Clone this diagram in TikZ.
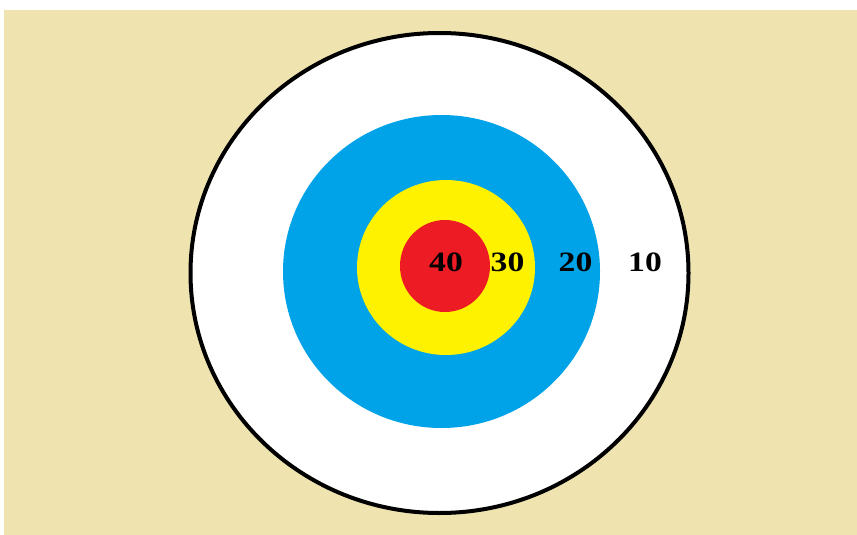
\documentclass[tikz,border=0pt]{standalone}
\usepackage{fontspec}
\setmainfont{Liberation Serif}
\definecolor{tan}{HTML}{EFE4B0}
\definecolor{pblue}{HTML}{00A2E8}
\definecolor{pyellow}{HTML}{FFF200}
\definecolor{pred}{HTML}{ED1C24}
\newcommand{\wide}[1]{\scalebox{1.2}[1]{#1}}
\begin{document}
\begin{tikzpicture}[x=1pt,y=-1pt,
  score/.style={font=\fontsize{28}{30}\selectfont\bfseries, text=black, inner sep=0pt, anchor=center}]
\useasboundingbox (0,0) rectangle (857,535);
\fill[white] (0,0) rectangle (857,535);
\fill[tan] (4,10) rectangle (857,535);
\filldraw[fill=white, draw=black, line width=4pt] (439.5,273) ellipse [x radius=249, y radius=240];
\fill[pblue] (441.5,271.5) ellipse [x radius=158.5, y radius=156.5];
\fill[pyellow] (446,267.5) ellipse [x radius=89, y radius=87.5];
\fill[pred] (445,266) ellipse [x radius=45, y radius=46];
\node[score] (s40) at (446,262.5) {\wide{40}};
\node[score] (s30) at (507.5,262.5) {\wide{30}};
\node[score] (s20) at (575.5,262.5) {\wide{20}};
\node[score] (s10) at (645,262.5) {\wide{10}};
\end{tikzpicture}
\end{document}
